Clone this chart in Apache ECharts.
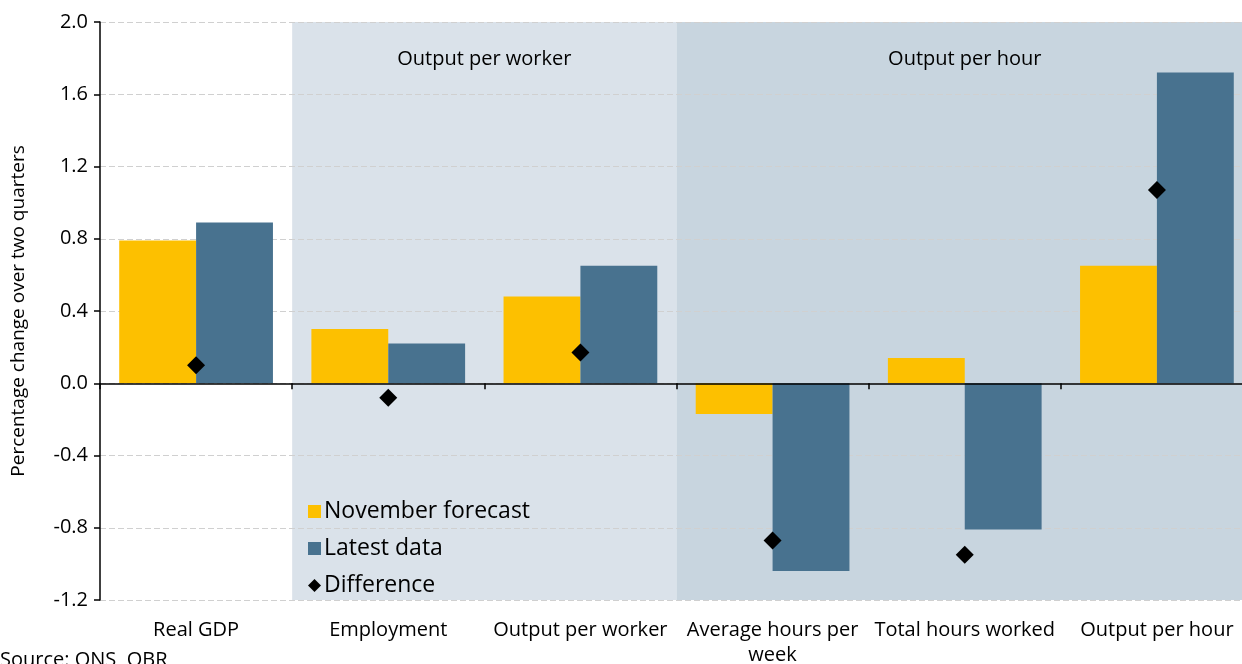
<!DOCTYPE html>
<html>
<head>
<meta charset="utf-8">
<script src="https://cdn.jsdelivr.net/npm/echarts@6/dist/echarts.min.js"></script>
<style>
html,body{margin:0;padding:0;background:#fff;}
#chart{width:1242px;height:664px;}
</style>
</head>
<body>
<div id="chart"></div>
<script>
const categories = ['Real GDP', 'Employment', 'Output per worker', 'Average hours per week', 'Total hours worked', 'Output per hour'];
const novemberForecast = [0.79, 0.30, 0.48, -0.17, 0.14, 0.65];
const latestData = [0.89, 0.22, 0.65, -1.04, -0.81, 1.72];
const difference = [0.10, -0.08, 0.17, -0.87, -0.95, 1.07];
const yTicks = { min: -1.2, max: 2.0, interval: 0.4 };
// bands in category-index units: [start, end, label]
const bands = [[1, 3, 'Output per worker'], [3, 6, 'Output per hour']];
const bandColors = ['#dae2ea', '#c8d5df'];

const FONT = '"Open Sans", "Noto Sans", sans-serif';
const chart = echarts.init(document.getElementById('chart'));

chart.setOption({
  animation: false,
  textStyle: { fontFamily: FONT },
  grid: { left: 100, right: -11, top: 22, bottom: 64, containLabel: false, outerBoundsMode: 'none' },
  legend: {
    orient: 'vertical',
    left: 303,
    top: 495,
    itemWidth: 13,
    itemHeight: 13,
    itemGap: 14,
    textStyle: { fontSize: 23, color: '#000', fontFamily: FONT, padding: [0, 0, 0, -2] },
    data: [
      { name: 'November forecast', icon: 'rect' },
      { name: 'Latest data', icon: 'rect' },
      { name: 'Difference', icon: 'diamond' }
    ]
  },
  xAxis: [
    {
      type: 'category',
      data: categories,
      axisLine: { onZero: true, lineStyle: { color: '#000', width: 1.5 } },
      axisTick: { show: true, length: 6, lineStyle: { color: '#000', width: 1.5 } },
      axisLabel: { show: false },
      z: 5
    },
    {
      type: 'category',
      data: categories,
      position: 'bottom',
      axisLine: { show: false, onZero: false },
      axisTick: { show: false },
      axisLabel: {
        fontSize: 20,
        color: '#000',
        margin: 18,
        lineHeight: 25,
        interval: 0,
        formatter: function (v) { return v === 'Average hours per week' ? 'Average hours per\nweek' : v; }
      }
    },
    { type: 'value', min: 0, max: 6, show: false }
  ],
  yAxis: {
    type: 'value',
    min: yTicks.min,
    max: yTicks.max,
    interval: yTicks.interval,
    name: 'Percentage change over two quarters',
    nameLocation: 'middle',
    nameGap: 72,
    nameTextStyle: { fontSize: 19, color: '#000' },
    axisLine: { show: true, lineStyle: { color: '#000', width: 1.5 } },
    axisTick: { show: true, length: 6, lineStyle: { color: '#000', width: 1.5 } },
    axisLabel: { fontSize: 20, color: '#000', margin: 12, formatter: v => v.toFixed(1) },
    splitLine: { show: true, lineStyle: { color: '#d0d0d0', type: [6, 3], width: 1.2 } }
  },
  series: [
    {
      type: 'custom',
      xAxisIndex: 2,
      z: -1,
      silent: true,
      data: bands.map((b, i) => [b[0], b[1], i]),
      renderItem: function (params, api) {
        const s = api.value(0), e = api.value(1), idx = api.value(2);
        const p1 = api.coord([s, yTicks.max]);
        const p2 = api.coord([e, yTicks.min]);
        return {
          type: 'group',
          children: [
            { type: 'rect', shape: { x: p1[0], y: p1[1], width: p2[0] - p1[0], height: p2[1] - p1[1] }, style: { fill: bandColors[idx] } },
            { type: 'text', x: (p1[0] + p2[0]) / 2, y: p1[1] + 37, style: { text: bands[idx][2], fill: '#000', font: '20px ' + FONT, align: 'center', verticalAlign: 'middle' } }
          ]
        };
      }
    },
    {
      name: 'November forecast',
      type: 'bar',
      data: novemberForecast,
      barGap: '0%',
      barCategoryGap: '20%',
      itemStyle: { color: '#fdc000' },
      z: 3
    },
    {
      name: 'Latest data',
      type: 'bar',
      data: latestData,
      itemStyle: { color: '#48728f' },
      z: 3
    },
    {
      name: 'Difference',
      type: 'scatter',
      data: difference,
      symbol: 'diamond',
      symbolSize: 18,
      itemStyle: { color: '#000', opacity: 1 },
      z: 6
    }
  ],
  graphic: [
    { type: 'text', left: 0, top: 650, style: { text: 'Source: ONS, OBR', fontSize: 20, fill: '#000', fontFamily: FONT } }
  ]
});
</script>
</body>
</html>
